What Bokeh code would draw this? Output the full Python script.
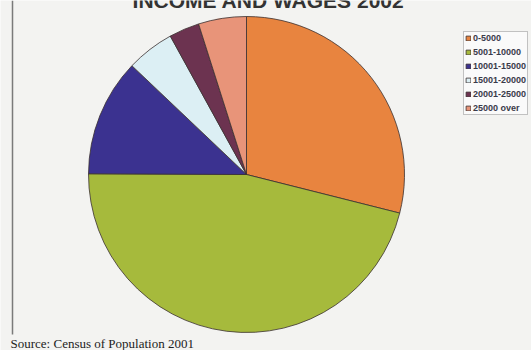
from math import pi
from bokeh.plotting import figure
from bokeh.models import Range1d, ColumnDataSource, Legend, LegendItem
from bokeh.core.properties import value
from bokeh.embed import file_html
from bokeh.resources import INLINE

# ---- data ----
bands = ["0-5000", "5001-10000", "10001-15000", "15001-20000", "20001-25000", "25000 over"]
shares = [28.9, 46.1, 12.0, 4.9, 3.1, 4.9]
colors = ["#E8843F", "#A6BA3C", "#3B3290", "#DCEFF4", "#6C3350", "#E89479"]
title_text = "INCOME AND WAGES 2002"
source_text = "Source:  Census of Population 2001"

W, H = 531, 350
p = figure(width=W, height=H, output_backend="svg", toolbar_location=None,
           x_range=Range1d(0, W), y_range=Range1d(0, H), min_border=0)
p.axis.visible = False
p.grid.visible = False
p.outline_line_color = None
p.background_fill_color = "#F3F3F1"
p.border_fill_color = "#F3F3F1"

total = sum(shares)
starts, ends = [], []
cum = 0.0
for s in shares:
    starts.append(pi / 2 - 2 * pi * cum / total)
    cum += s
    ends.append(pi / 2 - 2 * pi * cum / total)

src = ColumnDataSource(dict(band=bands, share=shares, color=colors,
                            start=starts, end=ends))
cx, cy, r = 246, H - 174, 158
wr = p.wedge(x=cx, y=cy, radius=r, radius_units="screen",
             start_angle="start", end_angle="end", direction="clock",
             fill_color="color", line_color="#3a3030", line_width=0.8,
             source=src)

# left frame line
p.segment(x0=[12], y0=[H], x1=[12], y1=[H - 334], line_color="#7a7a7a", line_width=1.5)

# title (only its lower part shows, as in the reference)
p.text(x=[268], y=[H - 11], text=[title_text], text_align="center",
       text_baseline="bottom", text_font=value("Liberation Sans"),
       text_font_style="bold", text_font_size="21px", text_color="#333333")

# source note
p.text(x=[10], y=[H - 343], text=[source_text], text_align="left",
       text_baseline="alphabetic", text_font=value("Liberation Serif"),
       text_font_size="13px", text_color="#222222")

items = [LegendItem(label=b, renderers=[wr], index=i) for i, b in enumerate(bands)]
legend = Legend(items=items, location=(463, H - 115),
                label_text_font="Liberation Sans", label_text_font_size="9px",
                label_text_font_style="bold", label_text_color="#3a3a4a",
                glyph_width=6, glyph_height=6, label_height=8, label_standoff=2,
                spacing=4, padding=1, margin=0,
                border_line_color="#888888", border_line_width=1,
                background_fill_color="#FAFAFA", background_fill_alpha=1.0)
p.add_layout(legend)

open("out.html", "w").write(file_html(p, INLINE))
